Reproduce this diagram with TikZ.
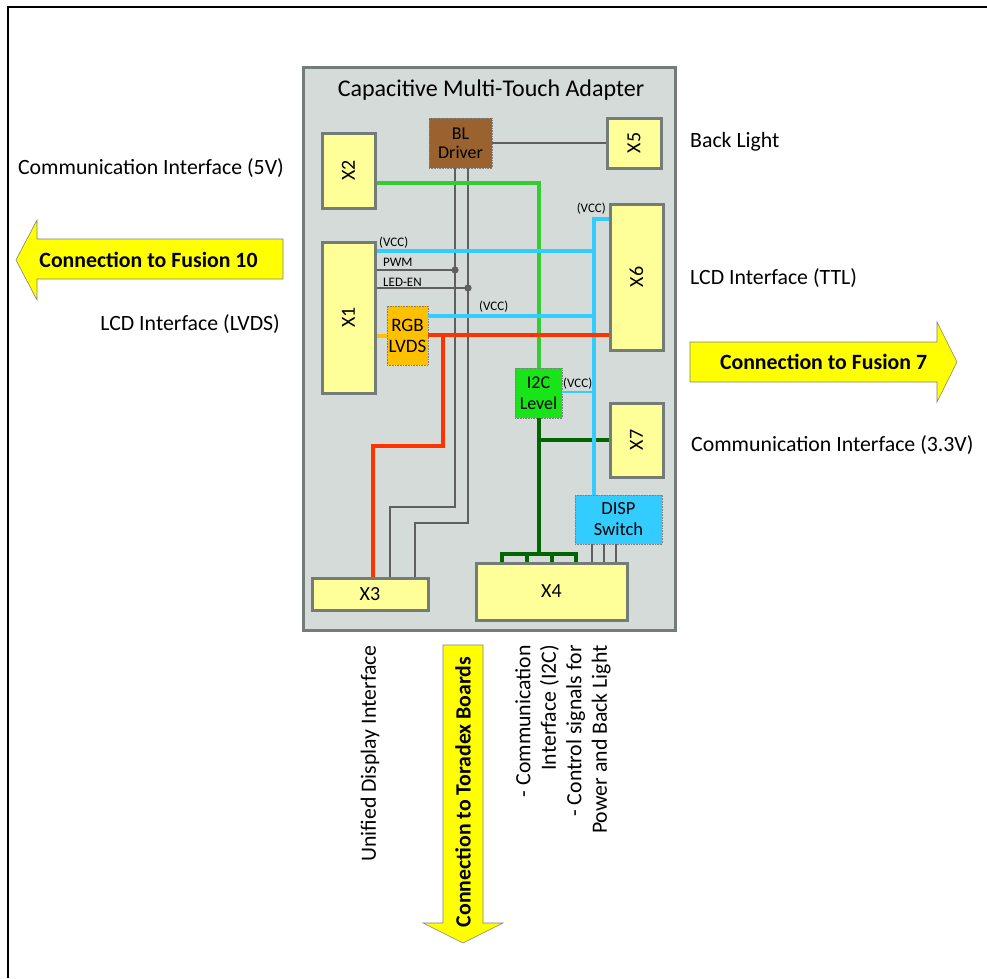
\documentclass[tikz,border=0pt]{standalone}
\usepackage{fontspec}
\setmainfont{Carlito}
\usetikzlibrary{calc}
\definecolor{boardfill}{RGB}{213,219,217}
\definecolor{boardline}{RGB}{115,124,118}
\definecolor{ybox}{RGB}{255,255,153}
\definecolor{brownbox}{RGB}{153,98,47}
\definecolor{orangebox}{RGB}{255,192,0}
\definecolor{greenbox}{RGB}{25,228,25}
\definecolor{bluebox}{RGB}{51,204,255}
\definecolor{wgreen}{RGB}{51,204,51}
\definecolor{wblue}{RGB}{51,204,255}
\definecolor{wred}{RGB}{255,51,0}
\definecolor{wdgreen}{RGB}{0,102,0}
\definecolor{wgray}{RGB}{95,95,95}
\definecolor{arrowyellow}{RGB}{255,255,0}
\tikzset{
  conn/.style={draw=boardline, line width=3pt, fill=ybox, inner sep=0pt, font=\fontsize{20}{24}\selectfont},
  chip/.style={draw=gray, densely dotted, line width=0.6pt, inner sep=0pt, align=center},
  graywire/.style={draw=wgray, line width=2pt},
  bluewire/.style={draw=wblue, line width=4pt},
  redwire/.style={draw=wred, line width=4.5pt},
  greenwire/.style={draw=wgreen, line width=4pt},
  dgwire/.style={draw=wdgreen, line width=4pt},
  tiny/.style={font=\fontsize{13}{15}\selectfont, inner sep=0pt},
  lbl/.style={font=\fontsize{21.8}{25.5}\selectfont, inner sep=0pt},
  bigarrow/.style={draw=gray, line width=0.6pt, fill=arrowyellow},
  arrowtext/.style={font=\fontsize{21.8}{25}\selectfont\bfseries, inner sep=0pt}
}
\begin{document}
\begin{tikzpicture}[x=1pt,y=-1pt]
\useasboundingbox (0,0) rectangle (987,978);
% outer frame (top and left edges visible)
\draw[line width=2.5pt] (8,978) -- (8,7) -- (987,7);

% board
\node[draw=boardline, line width=3pt, fill=boardfill, minimum width=372, minimum height=563, inner sep=0pt] (board) at (489,348.5) {};
\node[font=\fontsize{24}{28}\selectfont, inner sep=0pt] (title) at (491,90) {Capacitive Multi-Touch Adapter};

% connectors
\node[conn, minimum width=53, minimum height=75] (X2) at (348.5,170.5) {\rotatebox{90}{X2}};
\node[conn, minimum width=54, minimum height=50] (X5) at (634,143) {\rotatebox{90}{X5}};
\node[conn, minimum width=53, minimum height=151] (X1) at (348.5,317.5) {\rotatebox{90}{X1}};
\node[conn, minimum width=53, minimum height=146] (X6) at (636.5,277) {\rotatebox{90}{X6}};
\node[conn, minimum width=53, minimum height=74] (X7) at (636.5,440) {\rotatebox{90}{X7}};
\node[conn, minimum width=116, minimum height=32] (X3) at (370,594) {X3};
\node[conn, minimum width=151, minimum height=57] (X4) at (551.5,591.5) {X4};

% chips
\node[chip, fill=brownbox, minimum width=63, minimum height=50, font=\fontsize{18}{19}\selectfont] (BL) at (460.5,143) {BL\\Driver};
\node[chip, fill=orangebox, minimum width=41, minimum height=59, font=\fontsize{19}{21}\selectfont] (RGB) at (407.5,335.5) {RGB\\LVDS};
\node[chip, fill=greenbox, minimum width=47, minimum height=50, font=\fontsize{18}{21}\selectfont] (I2C) at (538.5,393) {I2C\\Level};
\node[chip, fill=bluebox, minimum width=87, minimum height=49, font=\fontsize{18.5}{21}\selectfont] (DISP) at (618.5,519.5) {DISP\\Switch};

% gray wires
\draw[graywire] (BL.east) -- (X5.west);
\draw[graywire] (BL.south -| 455,0) -- (455,507) -| (X3.north -| 390,0);
\draw[graywire] (BL.south -| 468,0) -- (468,523) -| (X3.north -| 415,0);
\coordinate (pwmdot) at (455,270);
\coordinate (ledendot) at (468,288);
\draw[graywire] (X1.east |- pwmdot) -- (pwmdot);
\draw[graywire] (X1.east |- ledendot) -- (ledendot);
\fill[wgray] (pwmdot) circle (3.6);
\fill[wgray] (ledendot) circle (3.6);
\node[tiny, anchor=base west] (pwm) at (383,266.5) {PWM};
\node[tiny, anchor=base west] (leden) at (383,286) {LED-EN};
\foreach \xx in {592,604,616}
  \draw[graywire, line width=1.6pt] (DISP.south -| \xx,0) -- (X4.north -| \xx,0);

% light green wire
\draw[greenwire] (X2.east |- 0,183) -| (I2C.north);

% dark green wires
\coordinate (bus) at (I2C.south |- 0,554);
\draw[dgwire] (I2C.south) -- (bus);
\draw[dgwire] (I2C.south |- X7.west) -- (X7.west);
\draw[dgwire] (X4.north -| 502,0) -- (502,554) -- (576,554) -- (X4.north -| 576,0);
\draw[dgwire] (527,554) -- (X4.north -| 527,0);
\draw[dgwire] (552,554) -- (X4.north -| 552,0);

% blue wires
\coordinate (bt) at (594,219);
\draw[bluewire] (X6.west |- bt) -- (bt) -- (DISP.north -| bt);
\draw[bluewire] (X1.east |- 0,251) -- (594,251);
\draw[bluewire] (RGB.east |- 0,316) -- (594,316);
\draw[draw=wblue, line width=2pt] (I2C.east |- 0,392) -- (594,392);
\node[tiny, anchor=base west] (vcc1) at (379,246.5) {(VCC)};
\node[tiny, anchor=base west] (vcc2) at (479,310.5) {(VCC)};
\node[tiny, anchor=base east] (vcc3) at (606,212.5) {(VCC)};
\node[tiny, anchor=base west] (vcc4) at (563,387.5) {(VCC)};

% red / orange wires
\draw[draw=orangebox, line width=4pt] (X1.east |- RGB.west) -- (RGB.west);
\draw[redwire] (RGB.east |- 0,335) -- (X6.west |- 0,335);
\draw[redwire] (443,335) -- (443,446) -| (X3.north -| 373,0);

% outside labels
\node[lbl, anchor=east] (l5v) at (284,168) {Communication Interface (5V)};
\node[lbl, anchor=east] (llvds) at (280,324) {LCD Interface (LVDS)};
\node[lbl, anchor=west] (lbl) at (690,142) {Back Light};
\node[lbl, anchor=west] (lttl) at (690,278) {LCD Interface (TTL)};
\node[lbl, anchor=west] (l33) at (691,445) {Communication Interface (3.3V)};
\node[lbl, rotate=90, anchor=east] (lud) at (370,645) {Unified Display Interface};
\node[lbl, rotate=90, anchor=east, align=right] (lcomm) at (563,645) {- Communication\\Interface (I2C)\\- Control signals for\\Power and Back Light};

% big arrows
\draw[bigarrow] (283,239) -- (37,239) -- (37,220) -- (16,260) -- (37,300) -- (37,279) -- (283,279) -- cycle;
\node[arrowtext] (af10) at (148.5,260) {Connection to Fusion 10};
\draw[bigarrow] (690,342) -- (937,342) -- (937,322) -- (957,362) -- (937,402) -- (937,382) -- (690,382) -- cycle;
\node[arrowtext] (af7) at (823.5,362) {Connection to Fusion 7};
\draw[bigarrow] (443,645) -- (443,923) -- (423,923) -- (463,943) -- (503,923) -- (483,923) -- (483,645) -- cycle;
\node[arrowtext, rotate=90] (atb) at (463,792) {Connection to Toradex Boards};
\end{tikzpicture}
\end{document}
